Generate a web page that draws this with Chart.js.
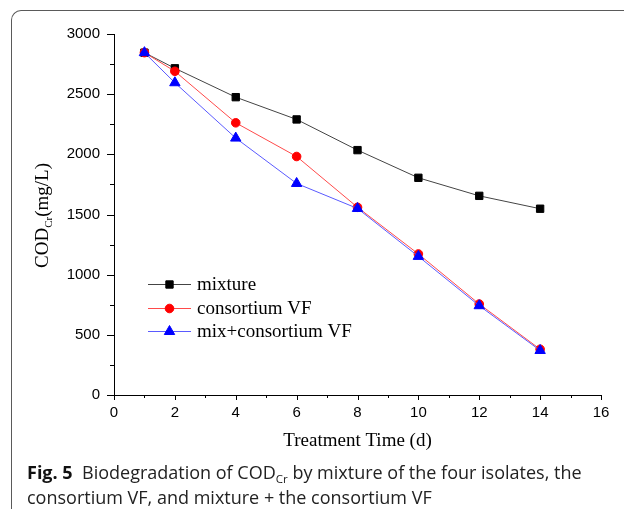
<!DOCTYPE html>
<html>
<head>
<meta charset="utf-8">
<script src="https://cdn.jsdelivr.net/npm/chart.js@4"></script>
<style>
  html, body { margin: 0; padding: 0; background: #fff; width: 624px; height: 519px; overflow: hidden; }
  #frame { position: absolute; left: 11px; top: 10px; width: 700px; height: 498px;
           border-top: 1.5px solid #5a5a5a; border-left: 1.5px solid #5a5a5a; border-top-left-radius: 10px; }
  #c { position: absolute; left: 0; top: 0; }
  #caption { position: absolute; left: 27px; top: 460px; font-family: "Open Sans", sans-serif;
             font-size: 18px; line-height: 25px; color: #222; white-space: nowrap; letter-spacing: 0px; }
  #caption b { font-weight: 700; color: #111; }
  #caption sub { font-size: 11.5px; vertical-align: -4px; line-height: 0; }
</style>
</head>
<body>
<div id="frame"></div>
<canvas id="c" width="624" height="519"></canvas>
<div id="caption"><b>Fig. 5</b>&nbsp; Biodegradation of COD<sub>Cr</sub> by mixture of the four isolates, the<br>consortium VF, and mixture + the consortium VF</div>
<script>
// ---- data ----
const days = [1, 2, 4, 6, 8, 10, 12, 14];
const mixture = [2845, 2715, 2475, 2290, 2035, 1805, 1655, 1548];
const consortiumVF = [2845, 2690, 2262, 1982, 1560, 1172, 756, 380];
const mixConsortiumVF = [2845, 2595, 2135, 1758, 1550, 1152, 742, 370];
const seriesNames = ["mixture", "consortium VF", "mix+consortium VF"];
const xTicks = [0, 2, 4, 6, 8, 10, 12, 14, 16];
const yTicks = [0, 500, 1000, 1500, 2000, 2500, 3000];
const xTitle = "Treatment Time (d)";
const yTitleMain = "COD";
const yTitleSub = "Cr";
const yTitleUnit = "(mg/L)";

const toPts = (arr) => days.map((d, i) => ({ x: d, y: arr[i] }));

const tickPlugin = {
  id: 'customDecor',
  afterDraw(chart) {
    const ctx = chart.ctx;
    const xs = chart.scales.x, ys = chart.scales.y;
    const area = chart.chartArea;
    ctx.save();
    ctx.strokeStyle = '#000';
    ctx.lineWidth = 1;
    // x ticks (major every 2, minor every 1)
    for (let v = xs.min; v <= xs.max; v += 1) {
      const px = Math.round(xs.getPixelForValue(v)) + 0.5;
      const len = (v % 2 === 0) ? 5 : 3;
      ctx.beginPath();
      ctx.moveTo(px, area.bottom);
      ctx.lineTo(px, area.bottom + len);
      ctx.stroke();
    }
    // y ticks (major every 500, minor every 250)
    for (let v = ys.min; v <= ys.max; v += 250) {
      const py = Math.round(ys.getPixelForValue(v)) + 0.5;
      const len = (v % 500 === 0) ? 7 : 4;
      ctx.beginPath();
      ctx.moveTo(area.left, py);
      ctx.lineTo(area.left - len, py);
      ctx.stroke();
    }
    // y-axis title with subscript
    ctx.fillStyle = '#000';
    ctx.translate(48, (area.top + area.bottom) / 2 + 1);
    ctx.rotate(-Math.PI / 2);
    const mainFont = '19px "Liberation Serif", "Times New Roman", serif';
    const subFont = '11px "Liberation Serif", "Times New Roman", serif';
    ctx.font = mainFont;
    const w1 = ctx.measureText(yTitleMain).width;
    const w3 = ctx.measureText(yTitleUnit).width;
    ctx.font = subFont;
    const w2 = ctx.measureText(yTitleSub).width;
    const total = w1 + w2 + w3;
    let x0 = -total / 2;
    ctx.textBaseline = 'alphabetic';
    ctx.textAlign = 'left';
    ctx.font = mainFont;
    ctx.fillText(yTitleMain, x0, 0);
    ctx.font = subFont;
    ctx.fillText(yTitleSub, x0 + w1, 4);
    ctx.font = mainFont;
    ctx.fillText(yTitleUnit, x0 + w1 + w2, 0);
    ctx.restore();

    // legend
    ctx.save();
    const rows = [284, 308, 331];
    chart.data.datasets.forEach((ds, i) => {
      const y = rows[i];
      ctx.strokeStyle = ds.borderColor;
      ctx.lineWidth = ds.borderWidth;
      ctx.beginPath();
      ctx.moveTo(148, y + 0.5);
      ctx.lineTo(191, y + 0.5);
      ctx.stroke();
      ctx.fillStyle = ds.pointBackgroundColor;
      ctx.strokeStyle = ds.pointBorderColor;
      ctx.lineWidth = ds.pointBorderWidth;
      Chart.helpers.drawPoint(ctx, { pointStyle: ds.pointStyle, radius: ds.pointRadius, rotation: 0, borderWidth: ds.pointBorderWidth }, 169.5, y + 0.5);
      ctx.fillStyle = '#000';
      ctx.font = '19px "Liberation Serif", "Times New Roman", serif';
      ctx.textBaseline = 'middle';
      ctx.textAlign = 'left';
      ctx.fillText(ds.label, 197, y + 1);
    });
    ctx.restore();
  }
};

new Chart(document.getElementById('c'), {
  type: 'line',
  data: {
    datasets: [
      { label: seriesNames[0], data: toPts(mixture), borderColor: '#444444', borderWidth: 1,
        pointStyle: 'rect', pointRadius: 5.2, pointBackgroundColor: '#000', pointBorderColor: '#000', pointBorderWidth: 1, order: 3 },
      { label: seriesNames[1], data: toPts(consortiumVF), borderColor: '#ff4a4a', borderWidth: 1,
        pointStyle: 'circle', pointRadius: 4.3, pointBackgroundColor: '#ff0000', pointBorderColor: '#ff0000', pointBorderWidth: 1, order: 2 },
      { label: seriesNames[2], data: toPts(mixConsortiumVF), borderColor: '#5a5aff', borderWidth: 1,
        pointStyle: 'triangle', pointRadius: 6, pointBackgroundColor: '#0000ff', pointBorderColor: '#0000ff', pointBorderWidth: 1, order: 1 }
    ]
  },
  options: {
    responsive: false,
    animation: false,
    devicePixelRatio: 1,
    layout: { padding: { left: 0, top: 34, right: 23, bottom: 64 } },
    plugins: { legend: { display: false }, tooltip: { enabled: false } },
    elements: { line: { tension: 0 } },
    scales: {
      x: {
        type: 'linear', min: 0, max: 16,
        afterBuildTicks: (s) => { s.ticks = xTicks.map(v => ({ value: v })); },
        afterFit: (s) => { s.height = 60; },
        grid: { display: false, drawTicks: false },
        border: { display: true, color: '#000', width: 1 },
        ticks: { color: '#000', padding: 9, maxRotation: 0, autoSkip: false,
                 callback: (v) => String(v),
                 font: { family: '"Liberation Sans", Arial, sans-serif', size: 15 } },
        title: { display: true, text: xTitle, color: '#000', padding: { top: 0, bottom: 3 },
                 font: { family: '"Liberation Serif", "Times New Roman", serif', size: 19 } }
      },
      y: {
        type: 'linear', min: 0, max: 3000,
        afterBuildTicks: (s) => { s.ticks = yTicks.map(v => ({ value: v })); },
        afterFit: (s) => { s.width = 114; },
        grid: { display: false, drawTicks: false },
        border: { display: true, color: '#000', width: 1 },
        ticks: { color: '#000', padding: 14, autoSkip: false,
                 callback: (v) => String(v),
                 font: { family: '"Liberation Sans", Arial, sans-serif', size: 15 } },
        title: { display: false }
      }
    }
  },
  plugins: [tickPlugin]
});
</script>
</body>
</html>
